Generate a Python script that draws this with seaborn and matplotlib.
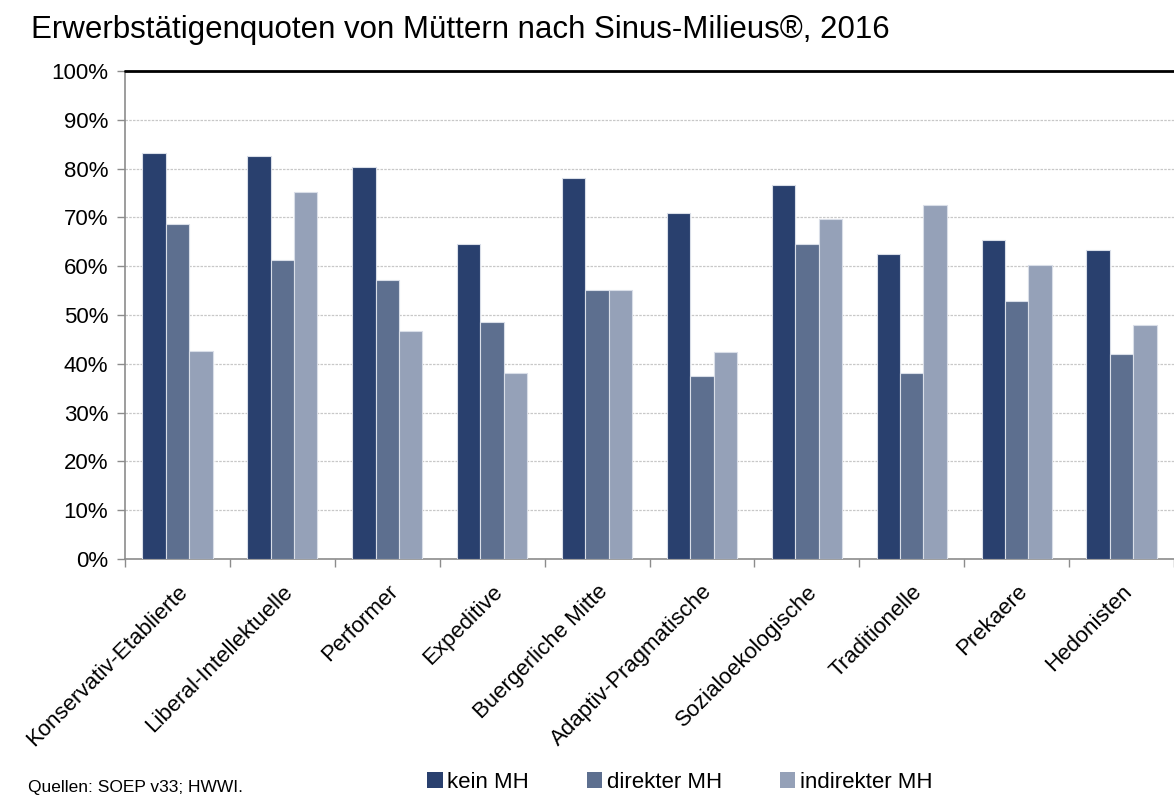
import matplotlib
matplotlib.use("Agg")
import matplotlib.pyplot as plt
import matplotlib.ticker as mticker
from matplotlib.patches import Patch
import seaborn as sns
import pandas as pd
import numpy as np

milieus = ["Konservativ-Etablierte", "Liberal-Intellektuelle", "Performer", "Expeditive",
           "Buergerliche Mitte", "Adaptiv-Pragmatische", "Sozialoekologische",
           "Traditionelle", "Prekaere", "Hedonisten"]
kein_mh = [83.2, 82.6, 80.3, 64.5, 78.1, 70.8, 76.6, 62.6, 65.3, 63.4]
direkter_mh = [68.6, 61.3, 57.2, 48.6, 55.2, 37.6, 64.6, 38.2, 52.9, 42.1]
indirekter_mh = [42.7, 75.3, 46.8, 38.1, 55.2, 42.5, 69.6, 72.6, 60.2, 48.0]
gruppen = ["kein MH", "direkter MH", "indirekter MH"]
farben = ["#29406e", "#5d6f8f", "#95a1b8"]

df = pd.DataFrame({"milieu": milieus, "kein MH": kein_mh,
                   "direkter MH": direkter_mh, "indirekter MH": indirekter_mh})
df = df.melt(id_vars="milieu", var_name="gruppe", value_name="quote")

sns.set_style("white")
plt.rcParams["font.family"] = ["Liberation Sans", "DejaVu Sans"]
plt.rcParams["text.color"] = "black"
plt.rcParams["xtick.color"] = "black"
plt.rcParams["ytick.color"] = "black"

fig = plt.figure(figsize=(11.74, 7.98), dpi=100)
ax = fig.add_axes([125 / 1174, 1 - 559 / 798, 1 - 125 / 1174, (559 - 71) / 798])

sns.barplot(data=df, x="milieu", y="quote", hue="gruppe", hue_order=gruppen,
            palette=farben, saturation=1, width=0.67, gap=0, edgecolor="#d9dee8",
            linewidth=0.8, legend=False, ax=ax, zorder=3)

ax.set_ylim(0, 100)
ax.set_xlim(-0.5, len(milieus) - 0.5)
ax.yaxis.set_major_locator(mticker.MultipleLocator(10))
ax.yaxis.set_major_formatter(mticker.FuncFormatter(lambda v, p: f"{v:.0f}%"))
ax.grid(axis="y", color="#c8c8c8", linestyle=(0, (2, 1)), linewidth=0.9, zorder=0)
ax.axhline(100, color="black", linewidth=2, zorder=4, clip_on=False)
ax.set_xlabel("")
ax.set_ylabel("")

for s in ["top", "right"]:
    ax.spines[s].set_visible(False)
for s in ["left", "bottom"]:
    ax.spines[s].set_color("#8c8c8c")
    ax.spines[s].set_linewidth(1.2)

ax.tick_params(axis="y", left=True, length=6, width=1, color="#8c8c8c",
               labelsize=16, pad=6)
ax.set_xticks(np.arange(len(milieus)))
ax.set_xticks(np.arange(len(milieus) + 1) - 0.5, minor=True)
ax.tick_params(axis="x", which="major", length=0, labelsize=16, pad=16)
ax.tick_params(axis="x", which="minor", bottom=True, length=6, width=1, color="#8c8c8c")
ax.set_xticklabels(milieus, rotation=45, ha="right", rotation_mode="anchor")

fig.text(0.026, 0.963, "Erwerbstätigenquoten von Müttern nach Sinus-Milieus®, 2016",
         fontsize=22.5, va="center", ha="left")
fig.text(0.024, 0.004, "Quellen: SOEP v33; HWWI.", fontsize=12.5,
         va="bottom", ha="left")

handles = [Patch(facecolor=c, edgecolor="none") for c in farben]
fig.legend(handles, gruppen, loc="center", bbox_to_anchor=(0.579, 0.02), ncol=3,
           frameon=False, fontsize=16, handlelength=0.7, handleheight=0.7,
           handletextpad=0.2, columnspacing=2.6)

fig.savefig("out.png", dpi=100)
